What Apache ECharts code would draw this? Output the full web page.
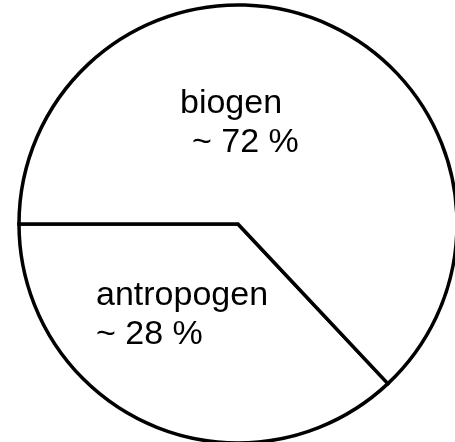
<!DOCTYPE html>
<html>
<head>
<meta charset="utf-8">
<script src="https://cdn.jsdelivr.net/npm/echarts@6/dist/echarts.min.js"></script>
<style>
html,body{margin:0;padding:0;background:#fff;}
#chart{width:455px;height:442px;}
</style>
</head>
<body>
<div id="chart"></div>
<script>
// Categories and slice sizes (slice angles as drawn in the picture)
var categories = ['antropogen', 'biogen'];
var sliceValues = [37, 63];
// Share labels printed in the picture
var shareLabels = ['~ 28 %', '~ 72 %'];

var chart = echarts.init(document.getElementById('chart'), null, {renderer: 'canvas'});

var pieData = categories.map(function (c, i) {
  return {name: c, value: sliceValues[i]};
});

var font = '"Liberation Sans", Arial, sans-serif';
function txt(x, y, s) {
  return {
    type: 'text', left: x, top: y, silent: true, z: 100,
    style: {text: s, font: '34px ' + font, fill: '#000'}
  };
}

chart.setOption({
  animation: false,
  backgroundColor: '#fff',
  series: [{
    type: 'pie',
    center: [238, 224],
    radius: [0, 219],
    startAngle: 180,
    clockwise: false,
    silent: true,
    z: 1,
    label: {show: false},
    labelLine: {show: false},
    emphasis: {disabled: true},
    itemStyle: {color: '#fff', borderColor: '#000', borderWidth: 3.5, borderJoin: 'miter'},
    data: pieData
  }],
  graphic: [
    txt(180, 87, categories[1]),
    txt(192, 126, shareLabels[1]),
    txt(96, 279, categories[0]),
    txt(96, 318, shareLabels[0])
  ]
});
</script>
</body>
</html>
